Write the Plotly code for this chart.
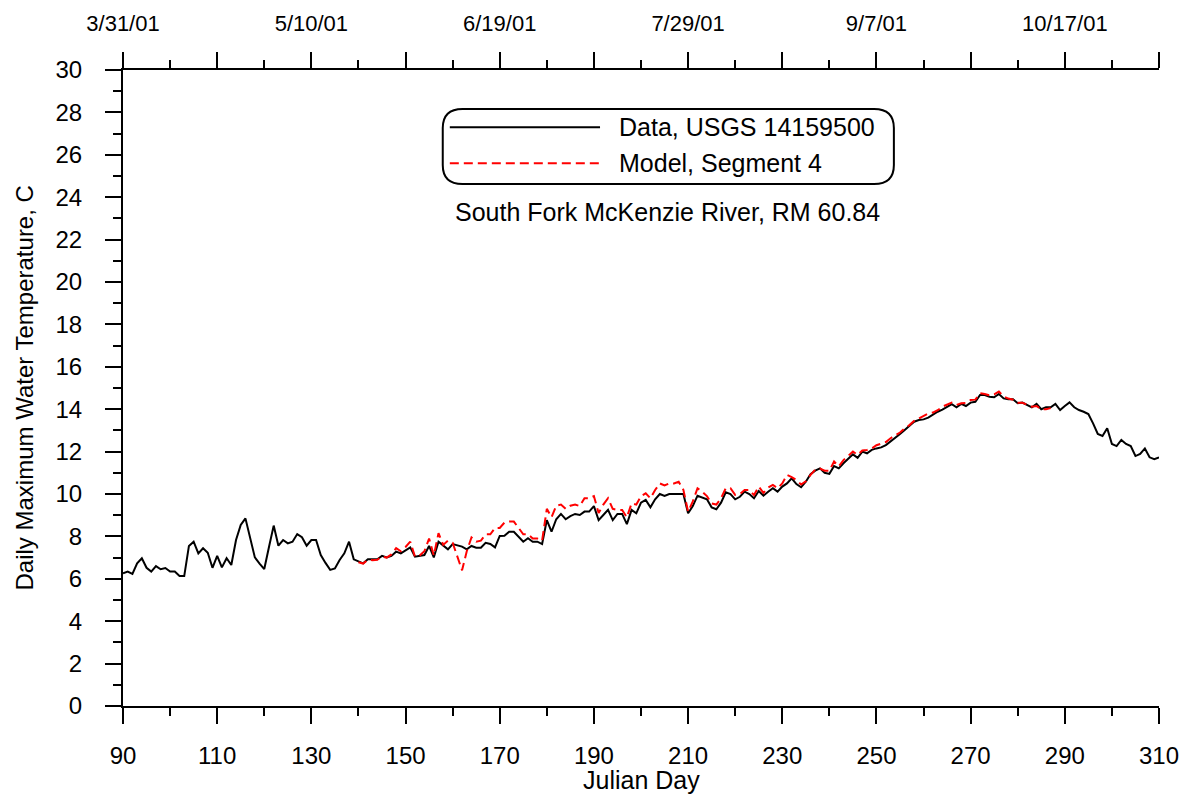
import plotly.graph_objects as go

# observed daily max water temperature, Julian day 90..310
data_temp = [
    6.26, 6.34, 6.23, 6.73, 6.97, 6.52, 6.34, 6.60, 6.45, 6.51,
    6.34, 6.34, 6.13, 6.13, 7.55, 7.75, 7.20, 7.44, 7.23, 6.52,
    7.08, 6.54, 6.97, 6.65, 7.83, 8.54, 8.85, 7.99, 7.01, 6.72,
    6.46, 7.50, 8.51, 7.56, 7.83, 7.67, 7.75, 8.11, 7.96, 7.56,
    7.83, 7.83, 7.12, 6.75, 6.42, 6.49, 6.89, 7.20, 7.75, 6.92,
    6.81, 6.73, 6.92, 6.92, 6.92, 7.08, 7.01, 7.08, 7.28, 7.20,
    7.36, 7.48, 7.04, 7.08, 7.12, 7.55, 7.01, 7.75, 7.55, 7.39,
    7.64, 7.58, 7.52, 7.39, 7.55, 7.47, 7.47, 7.70, 7.64, 7.48,
    8.02, 8.03, 8.22, 8.22, 7.99, 7.75, 7.91, 7.75, 7.75, 7.64,
    8.77, 8.22, 8.81, 9.06, 8.81, 8.96, 9.06, 9.01, 9.17, 9.17,
    9.43, 8.77, 9.01, 9.25, 8.77, 9.06, 9.06, 8.58, 9.25, 9.09,
    9.59, 9.72, 9.37, 9.75, 10.00, 9.91, 10.00, 10.00, 10.00, 10.00,
    9.09, 9.43, 9.92, 9.84, 9.75, 9.37, 9.28, 9.59, 10.08, 10.00,
    9.75, 9.87, 10.11, 10.00, 9.80, 10.14, 9.92, 10.11, 10.27, 10.11,
    10.35, 10.50, 10.74, 10.47, 10.32, 10.58, 10.93, 11.10, 11.21, 11.00,
    10.95, 11.32, 11.21, 11.45, 11.68, 11.87, 11.71, 12.00, 11.92, 12.08,
    12.15, 12.20, 12.31, 12.47, 12.67, 12.83, 13.02, 13.20, 13.41, 13.49,
    13.52, 13.60, 13.75, 13.88, 13.98, 14.10, 14.24, 14.09, 14.25, 14.15,
    14.31, 14.35, 14.67, 14.67, 14.59, 14.56, 14.72, 14.51, 14.47, 14.47,
    14.28, 14.31, 14.20, 14.09, 14.25, 14.00, 14.09, 14.09, 14.25, 13.96,
    14.15, 14.32, 14.09, 13.96, 13.88, 13.77, 13.33, 12.83, 12.74, 13.10,
    12.36, 12.26, 12.55, 12.36, 12.26, 11.79, 11.89, 12.15, 11.73, 11.64,
    11.73,
]
data_day = list(range(90, 90 + len(data_temp)))

# model output, segment 4, Julian day 140..287
model_temp = [
    6.78, 6.72, 6.90, 6.88, 6.90, 7.05, 7.00, 7.15, 7.45, 7.30,
    7.50, 7.75, 7.05, 7.10, 7.30, 7.90, 7.10, 8.15, 7.60, 7.80,
    7.70, 7.10, 6.40, 7.30, 7.95, 7.75, 7.80, 8.10, 8.10, 8.40,
    8.40, 8.65, 8.70, 8.70, 8.40, 8.10, 8.10, 7.90, 7.90, 7.80,
    9.30, 8.90, 9.45, 9.50, 9.30, 9.45, 9.50, 9.43, 9.80, 9.80,
    9.90, 9.10, 9.50, 9.80, 9.30, 9.25, 9.25, 8.90, 9.56, 9.50,
    9.90, 10.03, 9.80, 10.19, 10.50, 10.40, 10.50, 10.50, 10.58, 10.20,
    9.17, 9.65, 10.27, 10.11, 9.90, 9.55, 9.50, 9.80, 10.27, 10.27,
    9.96, 10.00, 10.19, 10.19, 9.95, 10.35, 10.05, 10.30, 10.43, 10.27,
    10.50, 10.90, 10.80, 10.66, 10.45, 10.60, 10.90, 11.15, 11.20, 11.10,
    11.10, 11.53, 11.30, 11.60, 11.80, 12.00, 11.85, 12.05, 12.08, 12.15,
    12.30, 12.39, 12.45, 12.63, 12.75, 12.90, 13.10, 13.25, 13.45, 13.57,
    13.65, 13.80, 13.84, 13.95, 14.12, 14.20, 14.31, 14.20, 14.28, 14.30,
    14.43, 14.45, 14.75, 14.72, 14.65, 14.70, 14.83, 14.60, 14.50, 14.45,
    14.30, 14.30, 14.20, 14.12, 14.15, 13.99, 14.00, 14.05,
]
model_day = list(range(140, 140 + len(model_temp)))

bottom_ticks = list(range(90, 311, 20))
top_ticks = list(range(90, 311, 20))
top_labels = ["3/31/01", "", "5/10/01", "", "6/19/01", "", "7/29/01", "",
              "9/7/01", "", "10/17/01", ""]

FONT = "Liberation Sans, Arial, sans-serif"

fig = go.Figure()
fig.add_trace(go.Scatter(x=data_day, y=data_temp, mode="lines",
                         line=dict(color="black", width=2), name="Data, USGS 14159500"))
fig.add_trace(go.Scatter(x=model_day, y=model_temp, mode="lines",
                         line=dict(color="red", width=2, dash="9px,5px"),
                         name="Model, Segment 4"))
# invisible trace so the top axis shows
fig.add_trace(go.Scatter(x=[90, 310], y=[0, 0], xaxis="x2", mode="lines",
                         line=dict(width=0), hoverinfo="skip", showlegend=False))

axis_common = dict(showgrid=False, zeroline=False, showline=True, linecolor="black",
                   linewidth=2, ticks="outside", tickwidth=2, tickcolor="black",
                   ticklen=16, automargin=False,
                   tickfont=dict(size=24, color="black", family=FONT))
minor_x = dict(dtick=10, tick0=90, ticklen=8, tickwidth=2, tickcolor="black",
               ticks="outside")

# page body has an 8px margin, so the figure is 8px smaller than the window
fig.update_layout(
    width=1182, height=790,
    margin=dict(l=115, r=31, t=62, b=92),
    plot_bgcolor="white", paper_bgcolor="white",
    showlegend=False,
    font=dict(family=FONT, color="black", size=24),
    xaxis=dict(range=[90, 310], tickvals=bottom_ticks, ticklabelstandoff=11,
               minor=minor_x, **axis_common),
    xaxis2=dict(range=[90, 310], overlaying="x", side="top", anchor="y",
                tickvals=top_ticks, ticktext=top_labels, ticklabelstandoff=12,
                minor=minor_x, **axis_common),
    yaxis=dict(range=[0, 30], dtick=2, ticklabelstandoff=18,
               minor=dict(dtick=1, ticklen=8, tickwidth=2,
                          tickcolor="black", ticks="outside"),
               **axis_common),
)
fig.update_layout(xaxis2_tickfont_size=22)

# axis titles
fig.add_annotation(x=0.5, y=-0.117, xref="paper", yref="paper", text="Julian Day",
                   showarrow=False, xanchor="center", yanchor="middle",
                   font=dict(size=25))
fig.add_annotation(x=-0.096, y=0.5, xref="paper", yref="paper",
                   text="Daily Maximum Water Temperature, C", textangle=-90,
                   showarrow=False, xanchor="center", yanchor="middle",
                   font=dict(size=24))

# legend box with rounded corners (data coordinates)
x0, x1, y0, y1 = 157.9, 253.7, 24.62, 28.16
rx, ry = 4.2, 0.9
path = (f"M{x0+rx},{y0} L{x1-rx},{y0} Q{x1},{y0} {x1},{y0+ry} "
        f"L{x1},{y1-ry} Q{x1},{y1} {x1-rx},{y1} L{x0+rx},{y1} "
        f"Q{x0},{y1} {x0},{y1-ry} L{x0},{y0+ry} Q{x0},{y0} {x0+rx},{y0} Z")
fig.add_shape(type="path", path=path, xref="x", yref="y",
              line=dict(color="black", width=2))
fig.add_shape(type="line", x0=159.4, x1=191.3, y0=27.3, y1=27.3, xref="x", yref="y",
              line=dict(color="black", width=2))
fig.add_shape(type="line", x0=159.4, x1=191.3, y0=25.6, y1=25.6, xref="x", yref="y",
              line=dict(color="red", width=2, dash="9px,5px"))
fig.add_annotation(x=194.9, y=27.3, text="Data, USGS 14159500", showarrow=False,
                   xanchor="left", yanchor="middle", font=dict(size=25))
fig.add_annotation(x=194.9, y=25.6, text="Model, Segment 4", showarrow=False,
                   xanchor="left", yanchor="middle", font=dict(size=25))
fig.add_annotation(x=205.7, y=23.3, text="South Fork McKenzie River, RM 60.84",
                   showarrow=False, xanchor="center", yanchor="middle",
                   font=dict(size=25))

fig.write_html("out.html")
